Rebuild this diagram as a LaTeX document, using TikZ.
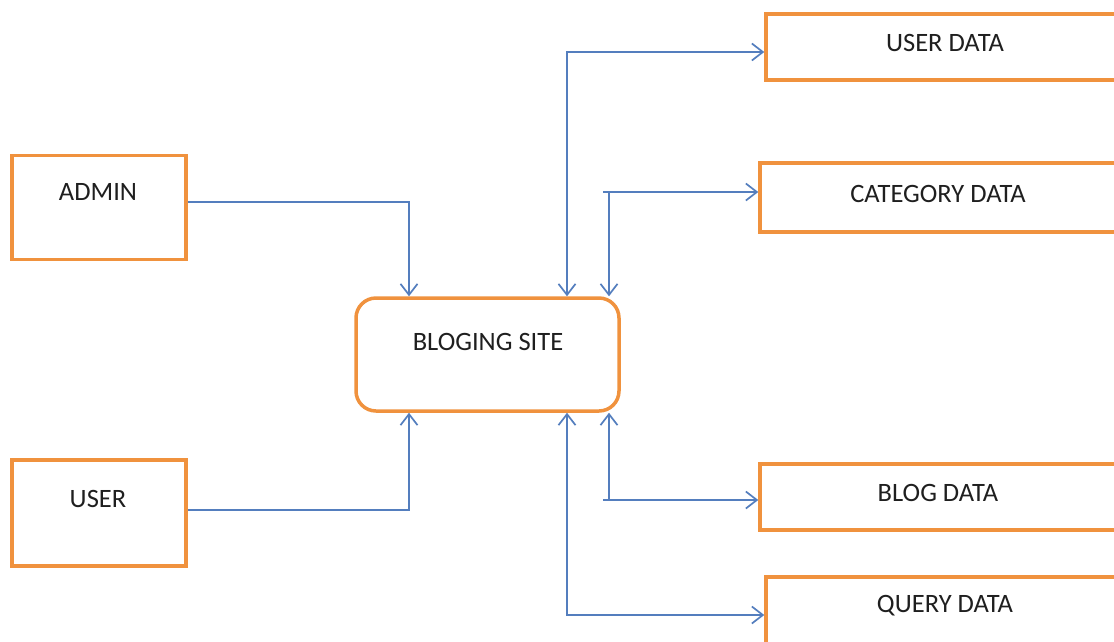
\documentclass[tikz,border=0pt]{standalone}
\usepackage{fontspec}
\setmainfont{Carlito}
\usetikzlibrary{arrows.meta}
\definecolor{boxorange}{RGB}{240,146,62}
\definecolor{lineblue}{RGB}{84,126,190}
\tikzset{
  ebox/.style={draw=boxorange, line width=3.5pt, rectangle, inner sep=0pt},
  sitebox/.style={draw=boxorange, line width=3.5pt, rectangle, rounded corners=20pt, inner sep=0pt, minimum width=263pt, minimum height=113pt},
  lbl/.style={font=\fontsize{26.5}{30}\selectfont, text=black!88, inner sep=0pt},
  flow/.style={draw=lineblue, line width=1.7pt, -{Straight Barb[length=11pt,width=17pt,line width=1.7pt]}},
  flowboth/.style={draw=lineblue, line width=1.7pt, {Straight Barb[length=11pt,width=17pt,line width=1.7pt]}-{Straight Barb[length=11pt,width=17pt,line width=1.7pt]}}
}
\begin{document}
\begin{tikzpicture}[x=1pt,y=-1pt]
\clip (0,0) rectangle (1114,641);
\fill[white] (0,0) rectangle (1114,641);
% boxes
\node[ebox, minimum width=174pt, minimum height=104pt] (admin) at (99,207.5) {};
\node[ebox, minimum width=174pt, minimum height=106pt] (user) at (99,513) {};
\node[sitebox] (blog) at (487.5,354.5) {};
\node[ebox, minimum width=360pt, minimum height=66pt] (userdata) at (946,47) {};
\node[ebox, minimum width=366pt, minimum height=69pt] (catdata) at (943,197.5) {};
\node[ebox, minimum width=366pt, minimum height=66pt] (blogdata) at (943,497) {};
\node[ebox, minimum width=360pt, minimum height=74pt] (querydata) at (946,614) {};
% labels
\node[lbl] (tadmin) at (98,192) {ADMIN};
\node[lbl] (tuser) at (98,499) {USER};
\node[lbl] (tblog) at (488,342) {BLOGING SITE};
\node[lbl] (tuserdata) at (945,43) {USER DATA};
\node[lbl] (tcatdata) at (938,194) {CATEGORY DATA};
\node[lbl] (tblogdata) at (938,493) {BLOG DATA};
\node[lbl] (tquerydata) at (945,606) {QUERY DATA};
% helper coordinates
\coordinate (xa) at (409,0);
\coordinate (xb) at (567,0);
\coordinate (xc) at (609,0);
\coordinate (cj) at (603,192);
\coordinate (bj) at (603,500);
% connectors
\draw[flow] ([yshift=5.5pt]admin.east) -| (xa |- blog.north);
\draw[flow] ([yshift=3pt]user.east) -| (xa |- blog.south);
\draw[flowboth] (xb |- blog.north) |- ([yshift=-5pt]userdata.west);
\draw[flow] (cj) -- (cj -| catdata.west);
\draw[flow] (xc |- cj) -- (xc |- blog.north);
\draw[flow] (bj) -- (bj -| blogdata.west);
\draw[flow] (xc |- bj) -- (xc |- blog.south);
\draw[flowboth] (xb |- blog.south) |- ([yshift=-1pt]querydata.west);
\end{tikzpicture}
\end{document}
